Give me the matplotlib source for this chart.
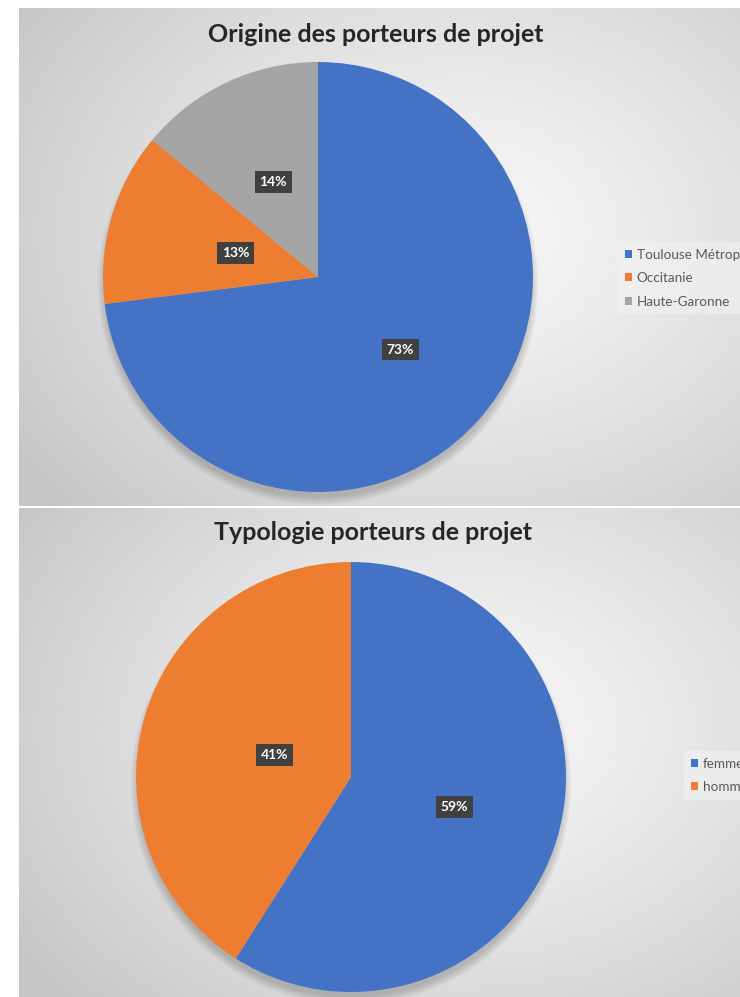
import numpy as np
import matplotlib.pyplot as plt
from matplotlib.patches import Patch, Circle

plt.rcParams['font.family'] = ['Lato', 'DejaVu Sans']

# données
origine_labels = ["Toulouse Métropole", "Occitanie", "Haute-Garonne"]
origine_values = [73, 13, 14]
typo_labels = ["femme", "homme"]
typo_values = [59, 41]

colors3 = ["#4472C4", "#ED7D31", "#A5A5A5"]
colors2 = ["#4472C4", "#ED7D31"]

W, H = 740, 997
fig = plt.figure(figsize=(W / 100, H / 100), dpi=100)
fig.patch.set_facecolor("white")


def px_box(x0, y0, x1, y1):
    # pixel box (top-left origin) -> figure fraction [left, bottom, width, height]
    return [x0 / W, 1 - y1 / H, (x1 - x0) / W, (y1 - y0) / H]


def background(y0, y1, cx=0.62, cy=0.45):
    ax = fig.add_axes(px_box(19, y0, W, y1))
    ny, nx = 200, 200
    xx, yy = np.meshgrid(np.linspace(0, 1, nx), np.linspace(0, 1, ny))
    d = np.sqrt(((xx - cx) * 1.0) ** 2 + ((yy - cy) * 0.9) ** 2)
    d = np.clip(d / 0.75, 0, 1)
    img = 0.965 - (0.965 - 0.775) * d ** 1.3
    ax.imshow(img, cmap="gray", vmin=0, vmax=1, aspect="auto",
              extent=(0, 1, 1, 0), interpolation="bilinear")
    ax.set_xlim(0, 1)
    ax.set_ylim(1, 0)
    ax.axis("off")
    return ax


def draw_pie(cx, cy, r, values, colors, label_dist):
    pad = 1.12
    ax = fig.add_axes(px_box(cx - r * pad, cy - r * pad, cx + r * pad, cy + r * pad))
    # ombre portée vers le bas
    for i in range(8):
        ax.add_patch(Circle((0, -0.035), 0.99 + 0.005 * i, color="black",
                            alpha=0.025, lw=0, zorder=0))
    wedges, _ = ax.pie(values, colors=colors, startangle=90,
                       counterclock=False, radius=1,
                       wedgeprops=dict(linewidth=0))
    for w, v, d in zip(wedges, values, label_dist):
        ang = np.deg2rad((w.theta1 + w.theta2) / 2)
        ax.text(d * np.cos(ang), d * np.sin(ang), f"{v}%", ha="center", va="center",
                color="white", fontsize=10, fontweight="bold", zorder=5,
                bbox=dict(boxstyle="square,pad=0.35", fc="#404040", ec="none"))
    ax.set_xlim(-pad, pad)
    ax.set_ylim(-pad, pad)
    ax.set_aspect("equal")
    ax.axis("off")
    return wedges


def add_legend(labels, colors, x, y):
    handles = [Patch(facecolor=c, edgecolor="none") for c in colors]
    fig.legend(handles, labels, loc="upper left",
               bbox_to_anchor=(x / W, 1 - y / H), bbox_transform=fig.transFigure,
               frameon=True, facecolor="#f2f2f2", edgecolor="none", framealpha=0.6,
               fontsize=9.7, labelcolor="#595959", handlelength=0.55,
               handleheight=0.55, handletextpad=0.35, labelspacing=0.85,
               borderaxespad=0, borderpad=0.5, fancybox=False)


# graphique 1
background(8, 506)
draw_pie(318, 277, 215, origine_values, colors3, [0.51, 0.40, 0.49])
fig.text(376 / W, 1 - 35 / H, "Origine des porteurs de projet",
         ha="center", va="center", fontsize=18, fontweight="bold", color="#262626")
add_legend(origine_labels, colors3, 618, 242)

# graphique 2
background(508, 997)
draw_pie(351, 777, 215, typo_values, colors2, [0.5, 0.37])
fig.text(373 / W, 1 - 533 / H, "Typologie porteurs de projet",
         ha="center", va="center", fontsize=18, fontweight="bold", color="#262626")
add_legend(typo_labels, colors2, 684, 751)

fig.savefig("out.png", dpi=100)
